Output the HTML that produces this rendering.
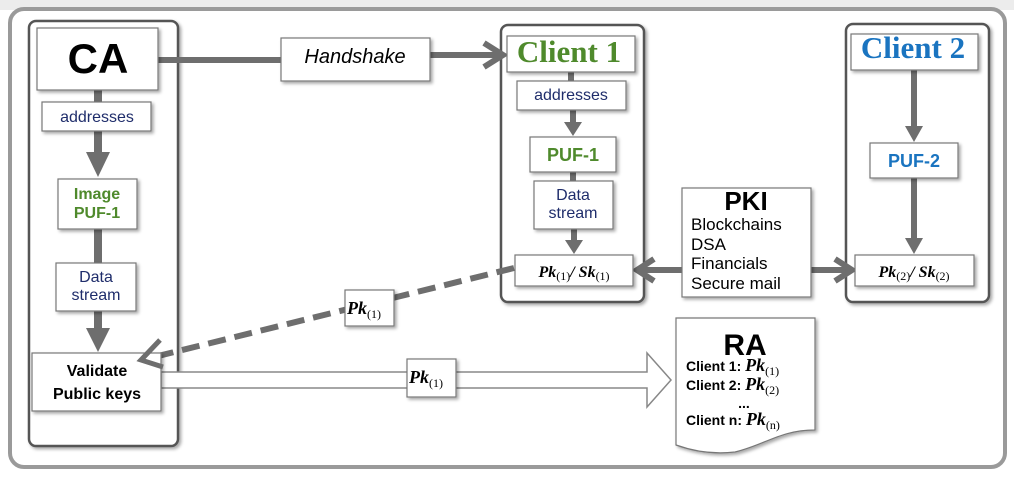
<!DOCTYPE html>
<html><head><meta charset="utf-8"><style>
html,body{margin:0;padding:0;background:#fff;width:1014px;height:481px;overflow:hidden}
svg{font-family:"Liberation Sans",sans-serif}
.s{font-family:"Liberation Serif",serif;font-weight:bold;font-style:italic}
.sub{font-family:"Liberation Serif",serif;font-weight:normal;font-style:normal}
.ser{font-family:"Liberation Serif",serif}
</style></head><body>
<svg width="1014" height="481" viewBox="0 0 1014 481" xmlns="http://www.w3.org/2000/svg">
<defs>
<filter id="sh" x="-10%" y="-10%" width="130%" height="130%"><feDropShadow dx="2" dy="2" stdDeviation="1.5" flood-color="#000" flood-opacity="0.35"/></filter>
</defs>
<rect x="0" y="0" width="1014" height="10" fill="#ececec"/>
<rect x="10" y="9" width="995" height="458" rx="14" fill="#fff" stroke="#9a9a9a" stroke-width="4"/>
<rect x="29" y="21" width="149" height="425" rx="7" fill="#fff" stroke="#555" stroke-width="2.5" filter="url(#sh)"/>
<rect x="501" y="25" width="143" height="277" rx="7" fill="#fff" stroke="#555" stroke-width="2.5" filter="url(#sh)"/>
<rect x="846" y="24" width="143" height="278" rx="7" fill="#fff" stroke="#555" stroke-width="2.5" filter="url(#sh)"/>
<g stroke="#6e6e6e" fill="#6e6e6e">
<line x1="98" y1="90" x2="98" y2="160" stroke-width="8"/>
<polygon points="86,152 110,152 98,177" stroke="none"/>
<line x1="98" y1="229" x2="98" y2="330" stroke-width="8"/>
<polygon points="86,328 110,328 98,352" stroke="none"/>
<line x1="158" y1="60" x2="281" y2="60" stroke-width="6"/>
<line x1="430" y1="55" x2="502" y2="55" stroke-width="6"/>
<polyline points="484,43 503,55 484,67" fill="none" stroke-width="6"/>
<line x1="571" y1="72" x2="571" y2="81" stroke-width="6"/>
<line x1="573" y1="110" x2="573" y2="125" stroke-width="6"/>
<polygon points="564,122 582,122 573,136" stroke="none"/>
<line x1="573" y1="172" x2="573" y2="181" stroke-width="6"/>
<line x1="574" y1="229" x2="574" y2="243" stroke-width="6"/>
<polygon points="565,240 583,240 574,254" stroke="none"/>
<line x1="914" y1="70" x2="914" y2="130" stroke-width="6"/>
<polygon points="905,126 923,126 914,142" stroke="none"/>
<line x1="914" y1="178" x2="914" y2="242" stroke-width="6"/>
<polygon points="905,238 923,238 914,254" stroke="none"/>
<line x1="682" y1="270" x2="637" y2="270" stroke-width="6"/>
<polyline points="654,259 637,270 654,281" fill="none" stroke-width="6"/>
<line x1="811" y1="270" x2="852" y2="270" stroke-width="6"/>
<polyline points="835,259 852,270 835,281" fill="none" stroke-width="6"/>
<line x1="514" y1="268" x2="150" y2="358" stroke-width="6" stroke-dasharray="18,9"/>
</g>
<polygon points="161,372 647,372 647,353 671,380 647,407 647,388 161,388" fill="#fff" stroke="#888" stroke-width="1.5"/>
<g fill="#fff" stroke="#777" stroke-width="1.2" filter="url(#sh)">
<rect x="37" y="28" width="121" height="62"/>
<rect x="42" y="102" width="109" height="29"/>
<rect x="58" y="179" width="79" height="50"/>
<rect x="56" y="263" width="80" height="48"/>
<rect x="32" y="353" width="129" height="58"/>
<rect x="281" y="38" width="149" height="43"/>
<rect x="507" y="36" width="128" height="36"/>
<rect x="517" y="81" width="109" height="29"/>
<rect x="530" y="137" width="86" height="35"/>
<rect x="534" y="181" width="79" height="48"/>
<rect x="515" y="255" width="118" height="31"/>
<rect x="682" y="188" width="129" height="109"/>
<rect x="851" y="34" width="127" height="36"/>
<rect x="870" y="143" width="88" height="35"/>
<rect x="855" y="255" width="119" height="31"/>
<rect x="345" y="290" width="49" height="36"/>
<rect x="407" y="359" width="49" height="38"/>
<path d="M676,318 L815,318 L815,430 C780,430 765,445 735,452 C710,455 690,450 676,445 Z"/>
</g>
<polyline points="160,340 141,360 163,367" fill="none" stroke="#6e6e6e" stroke-width="5"/>
<text x="98" y="73" font-size="42" font-weight="bold" text-anchor="middle">CA</text>
<text x="97" y="122" font-size="16" fill="#1f2d6b" text-anchor="middle">addresses</text>
<text x="97" y="199" font-size="16" fill="#4f8a2c" font-weight="bold" text-anchor="middle">Image</text>
<text x="97" y="218" font-size="16" fill="#4f8a2c" font-weight="bold" text-anchor="middle">PUF-1</text>
<text x="96" y="282" font-size="16" fill="#1f2d6b" text-anchor="middle">Data</text>
<text x="96" y="300" font-size="16" fill="#1f2d6b" text-anchor="middle">stream</text>
<text x="97" y="376" font-size="16" font-weight="bold" text-anchor="middle">Validate</text>
<text x="97" y="399" font-size="16" font-weight="bold" text-anchor="middle">Public keys</text>
<text x="355" y="63" font-size="20" font-style="italic" text-anchor="middle">Handshake</text>
<text x="569" y="62" font-size="31" font-weight="bold" fill="#4f8a2c" text-anchor="middle" class="ser">Client 1</text>
<text x="571" y="100" font-size="16" fill="#1f2d6b" text-anchor="middle">addresses</text>
<text x="573" y="161" font-size="18" font-weight="bold" fill="#4f8a2c" text-anchor="middle">PUF-1</text>
<text x="573" y="200" font-size="16" fill="#1f2d6b" text-anchor="middle">Data</text>
<text x="573" y="218" font-size="16" fill="#1f2d6b" text-anchor="middle">stream</text>
<text x="574" y="277" font-size="16" text-anchor="middle" class="s">Pk<tspan class="sub" font-size="12" dy="3">(1)</tspan><tspan dy="-3">/ Sk</tspan><tspan class="sub" font-size="12" dy="3">(1)</tspan></text>
<text x="913" y="58" font-size="31" font-weight="bold" fill="#1a74c0" text-anchor="middle" class="ser">Client 2</text>
<text x="914" y="167" font-size="18" font-weight="bold" fill="#1a74c0" text-anchor="middle">PUF-2</text>
<text x="914" y="277" font-size="16" text-anchor="middle" class="s">Pk<tspan class="sub" font-size="12" dy="3">(2)</tspan><tspan dy="-3">/ Sk</tspan><tspan class="sub" font-size="12" dy="3">(2)</tspan></text>
<text x="746" y="210" font-size="26" font-weight="bold" text-anchor="middle">PKI</text>
<g font-size="17"><text x="691" y="230">Blockchains</text><text x="691" y="250">DSA</text><text x="691" y="269">Financials</text><text x="691" y="289">Secure mail</text></g>
<text x="347" y="314" font-size="18" class="s">Pk<tspan class="sub" font-size="12" dy="4">(1)</tspan></text>
<text x="409" y="383" font-size="18" class="s">Pk<tspan class="sub" font-size="12" dy="4">(1)</tspan></text>
<text x="745" y="355" font-size="30" font-weight="bold" text-anchor="middle">RA</text>
<g font-size="14" font-weight="bold">
<text x="686" y="371">Client 1: <tspan class="s" font-size="18">Pk</tspan><tspan class="sub" font-size="12" dy="4">(1)</tspan></text>
<text x="686" y="390">Client 2: <tspan class="s" font-size="18">Pk</tspan><tspan class="sub" font-size="12" dy="4">(2)</tspan></text>
<text x="744" y="408" text-anchor="middle">...</text>
<text x="686" y="425">Client n: <tspan class="s" font-size="18">Pk</tspan><tspan class="sub" font-size="12" dy="4">(n)</tspan></text>
</g>
</svg>
</body></html>
